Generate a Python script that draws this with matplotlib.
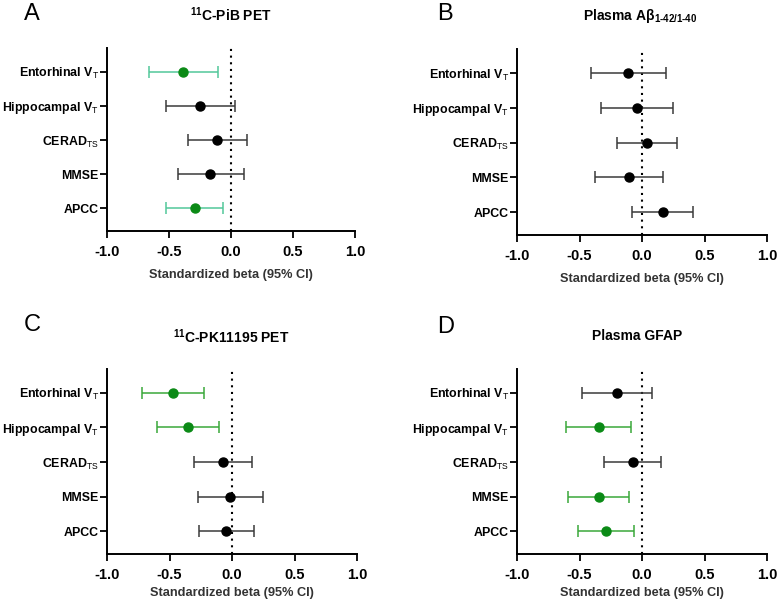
import matplotlib
matplotlib.use("Agg")
import matplotlib.pyplot as plt

plt.rcParams['font.family'] = ['Liberation Sans', 'DejaVu Sans']
plt.rcParams['mathtext.fontset'] = 'custom'
plt.rcParams['mathtext.rm'] = 'Liberation Sans'
plt.rcParams['mathtext.bf'] = 'Liberation Sans:bold'
plt.rcParams['mathtext.it'] = 'Liberation Sans:italic'

categories = ["Entorhinal V$_{\\mathrm{T}}$", "Hippocampal V$_{\\mathrm{T}}$",
              "CERAD$_{\\mathrm{TS}}$", "MMSE", "APCC"]

titles = ["$^{\\mathbf{11}}$C-PiB PET",
          "Plasma A\u03b2$_{\\mathbf{1\u201042/1\u201040}}$",
          "$^{\\mathbf{11}}$C-PK11195 PET",
          "Plasma GFAP"]
letters = ["A", "B", "C", "D"]

# estimates, lower CI, upper CI (order: Entorhinal, Hippocampal, CERAD, MMSE, APCC)
pib_beta = [-0.387, -0.250, -0.113, -0.167, -0.293]
pib_lo = [-0.659, -0.527, -0.349, -0.430, -0.522]
pib_hi = [-0.108, 0.032, 0.126, 0.102, -0.067]
pib_sig = [True, False, False, False, True]

abeta_beta = [-0.109, -0.040, 0.040, -0.107, 0.165]
abeta_lo = [-0.405, -0.325, -0.200, -0.379, -0.083]
abeta_hi = [0.195, 0.248, 0.280, 0.165, 0.408]
abeta_sig = [False, False, False, False, False]

pk_beta = [-0.471, -0.356, -0.075, -0.016, -0.048]
pk_lo = [-0.717, -0.604, -0.307, -0.270, -0.262]
pk_hi = [-0.222, -0.104, 0.160, 0.246, 0.176]
pk_sig = [True, True, False, False, False]

gfap_beta = [-0.200, -0.346, -0.076, -0.346, -0.290]
gfap_lo = [-0.482, -0.607, -0.308, -0.592, -0.514]
gfap_hi = [0.079, -0.087, 0.148, -0.103, -0.068]
gfap_sig = [False, True, False, True, True]

panels = [
    (pib_beta, pib_lo, pib_hi, pib_sig, '#52c79a'),
    (abeta_beta, abeta_lo, abeta_hi, abeta_sig, '#3aa83a'),
    (pk_beta, pk_lo, pk_hi, pk_sig, '#3aa83a'),
    (gfap_beta, gfap_lo, gfap_hi, gfap_sig, '#3aa83a'),
]

W, H = 777, 602
fig = plt.figure(figsize=(W / 100, H / 100), dpi=100)

# axes boxes in pixels: left, top, right, bottom
boxes = [(107, 48, 355, 231), (517, 49, 767, 235),
         (107, 369, 357, 554), (517, 369, 767, 554)]
letter_pos = [(24, 14), (437, 14), (24, 325), (437, 327)]
title_pos = [(231, 15), (640, 16), (231, 337), (637, 336)]
label_pads = [7, 7, 3.5, 3.5]

for i, (beta, lo, hi, sig, gcol) in enumerate(panels):
    l, t, r, b = boxes[i]
    ax = fig.add_axes([l / W, 1 - b / H, (r - l) / W, (b - t) / H])
    n = len(categories)
    ys = list(range(n - 1, -1, -1))
    ax.axvline(0, color='black', ls=(0, (1, 2.2)), lw=1.5, zorder=1)
    for k in range(n):
        ecol = gcol if sig[k] else '#3a3a3a'
        mcol = '#0b8a16' if sig[k] else 'black'
        ax.errorbar([beta[k]], [ys[k]],
                    xerr=[[beta[k] - lo[k]], [hi[k] - beta[k]]],
                    fmt='o', ms=6.5, mfc=mcol, mec=mcol, ecolor=ecol,
                    elinewidth=1.1, capsize=4.5, capthick=1.1, zorder=3)
    ax.set_xlim(-1.0, 1.0)
    ax.set_ylim(-0.66, 4.69)
    ax.set_xticks([-1.0, -0.5, 0.0, 0.5, 1.0])
    ax.set_xticklabels(["-1.0", "-0.5", "0.0", "0.5", "1.0"],
                       fontsize=10.5, fontweight='bold')
    ax.set_yticks(ys)
    ax.set_yticklabels(categories, fontsize=8.9, fontweight='bold')
    ax.spines['top'].set_visible(False)
    ax.spines['right'].set_visible(False)
    for s in ['left', 'bottom']:
        ax.spines[s].set_linewidth(1.4)
    ax.tick_params(axis='x', length=5, width=1.3, pad=5)
    ax.tick_params(axis='y', length=5, width=1.3, pad=1)
    ax.set_xlabel("Standardized beta (95% CI)", fontsize=9.2, fontweight='bold',
                  color='#333333', labelpad=label_pads[i])
    lx, ly = letter_pos[i]
    fig.text(lx / W, 1 - ly / H, letters[i], fontsize=17, ha='left', va='center')
    tx, ty = title_pos[i]
    fig.text(tx / W, 1 - ty / H, titles[i], fontsize=10, fontweight='bold',
             ha='center', va='center')

fig.savefig("out.png", dpi=100)
